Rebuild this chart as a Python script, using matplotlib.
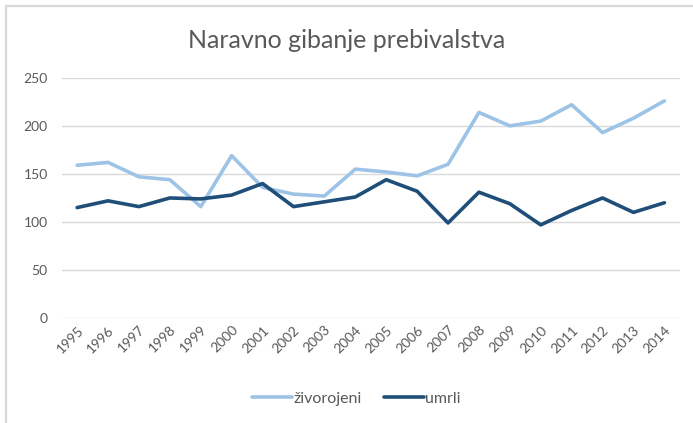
import matplotlib.pyplot as plt
from matplotlib.patches import Rectangle

plt.rcParams['font.family'] = ['Lato', 'DejaVu Sans']

years = list(range(1995, 2015))
zivorojeni = [159, 162, 147, 144, 116, 169, 136, 129, 127, 155,
              152, 148, 160, 214, 200, 205, 222, 193, 208, 226]
umrli = [115, 122, 116, 125, 124, 128, 140, 116, 121, 126,
         144, 132, 99, 131, 119, 97, 112, 125, 110, 120]
yticks = [0, 50, 100, 150, 200, 250]

fig = plt.figure(figsize=(6.93, 4.23), dpi=100)
ax = fig.add_axes([0.089, 0.248, 0.892, 0.568])

ax.plot(years, zivorojeni, color='#9dc3e6', lw=2.6, label='živorojeni',
        solid_joinstyle='round', solid_capstyle='round')
ax.plot(years, umrli, color='#1f4e79', lw=2.6, label='umrli',
        solid_joinstyle='round', solid_capstyle='round')

ax.set_xlim(1994.5, 2014.5)
ax.set_ylim(0, 250)
ax.set_yticks(yticks)
ax.set_xticks(years)
ax.set_xticklabels([str(y) for y in years], rotation=45, ha='right',
                   rotation_mode='anchor')
ax.tick_params(axis='both', length=0, colors='#595959', labelsize=10)
ax.tick_params(axis='x', pad=4)
ax.tick_params(axis='y', pad=10)
ax.grid(axis='y', color='#d9d9d9', lw=1)
ax.set_axisbelow(True)
for s in ax.spines.values():
    s.set_visible(False)

fig.text(0.5, 0.905, 'Naravno gibanje prebivalstva', ha='center',
         va='center', fontsize=18, color='#595959')

fig.legend(loc='center', bbox_to_anchor=(0.514, 0.057), ncol=2, frameon=False,
           fontsize=11.5, labelcolor='#595959', handlelength=2.5,
           columnspacing=1.4, handletextpad=0.1)

# chart area border, only top and left edges inside the image
fig.patches.append(Rectangle((6 / 693, -0.05), 1.1, 1 - 6 / 423 + 0.05,
                             transform=fig.transFigure, fill=False,
                             edgecolor='#d9d9d9', lw=1.6))

fig.savefig('out.png', dpi=100)
